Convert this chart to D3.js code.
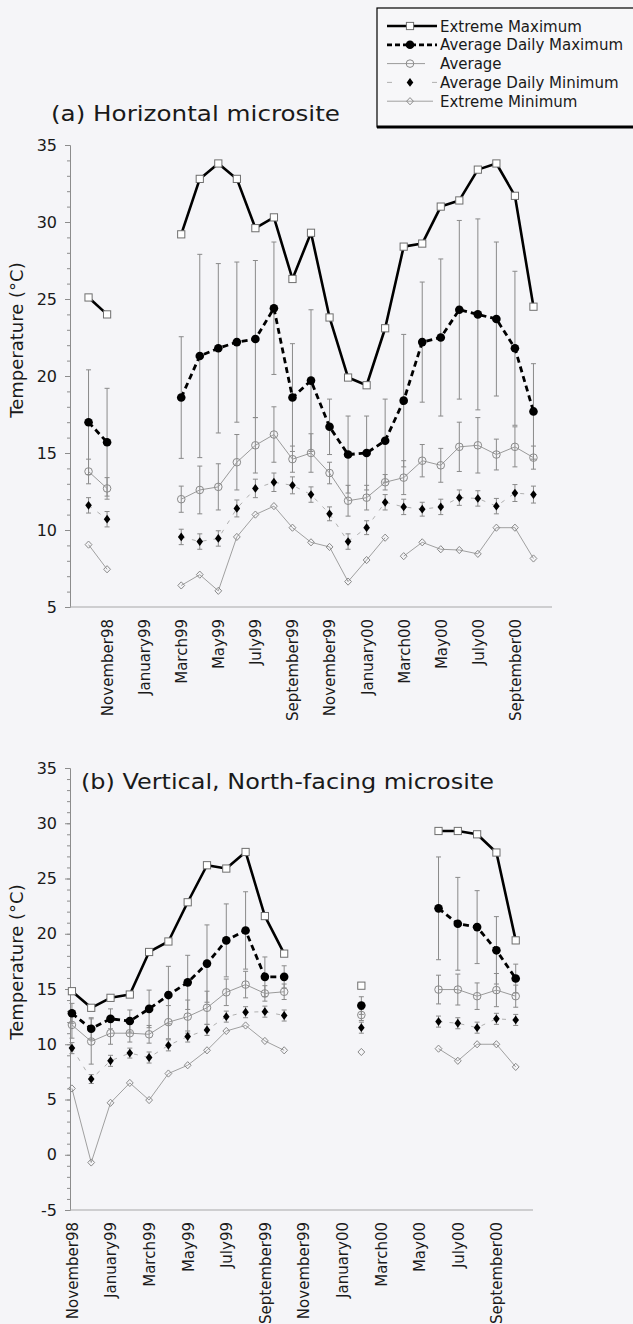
<!DOCTYPE html>
<html>
<head>
<meta charset="utf-8">
<script src="https://cdn.jsdelivr.net/npm/d3@7"></script>
<style>
  html, body { margin: 0; padding: 0; background: #f5f5f8; }
  svg { display: block; }
  text { font-family: "DejaVu Sans", "Liberation Sans", sans-serif; fill: #1a1a1a; }
</style>
</head>
<body>
<svg id="chart" width="633" height="1324"></svg>
<script>
// Monthly sequence shared by both panels (Sep 1998 .. Nov 2000)
const months = ["Sep98","Oct98","Nov98","Dec98","Jan99","Feb99","Mar99","Apr99","May99",
  "Jun99","Jul99","Aug99","Sep99","Oct99","Nov99","Dec99","Jan00","Feb00","Mar00","Apr00",
  "May00","Jun00","Jul00","Aug00","Sep00","Oct00","Nov00"];

// Axis tick months and their printed labels
const tickMonths = ["Nov98","Jan99","Mar99","May99","Jul99","Sep99","Nov99","Jan00","Mar00","May00","Jul00","Sep00"];
const tickLabels = ["November98","January99","March99","May99","July99","September99",
  "November99","January00","March00","May00","July00","September00"];
const yTicksA = [5, 10, 15, 20, 25, 30, 35];
const yTicksB = [-5, 0, 5, 10, 15, 20, 25, 30, 35];

// (a) Horizontal microsite, °C
const extMaxA   = [null,25.1,24.0,null,null,null,29.2,32.8,33.8,32.8,29.6,30.3,26.3,29.3,23.8,19.9,19.4,23.1,28.4,28.6,31.0,31.4,33.4,33.8,31.7,24.5,null];
const avgMaxA   = [null,17.0,15.7,null,null,null,18.6,21.3,21.8,22.2,22.4,24.4,18.6,19.7,16.7,14.9,15.0,15.8,18.4,22.2,22.5,24.3,24.0,23.7,21.8,17.7,null];
const avgMaxSdA = [null,3.4,3.5,null,null,null,3.95,6.6,5.5,5.2,5.1,4.3,3.5,4.6,1.8,2.5,2.4,2.7,4.3,3.9,5.1,5.8,6.2,5.0,5.0,3.1,null];
const avgA      = [null,13.8,12.7,null,null,null,12.0,12.6,12.8,14.4,15.5,16.2,14.6,15.0,13.7,11.9,12.1,13.1,13.4,14.5,14.2,15.4,15.5,14.9,15.4,14.7,null];
const avgSdA    = [null,0.8,0.7,null,null,null,0.85,1.55,1.5,1.8,1.8,1.8,0.85,1.25,0.7,1.0,0.8,0.5,1.1,1.05,1.1,1.6,1.8,1.0,1.3,0.75,null];
const avgMinA   = [null,11.6,10.7,null,null,null,9.55,9.25,9.45,11.4,12.7,13.1,12.9,12.3,11.05,9.25,10.15,11.8,11.5,11.35,11.5,12.1,12.05,11.55,12.4,12.3,null];
const avgMinSdA = [null,0.5,0.5,null,null,null,0.5,0.5,0.5,0.55,0.6,0.6,0.55,0.5,0.45,0.5,0.45,0.5,0.5,0.45,0.5,0.5,0.5,0.5,0.55,0.55,null];
const extMinA   = [null,9.05,7.45,null,null,null,6.4,7.1,6.05,9.55,11.0,11.55,10.15,9.2,8.9,6.65,8.05,9.5,8.3,9.2,8.75,8.7,8.45,10.15,10.15,8.15,null];
const extMinBreaksA = ["Feb00"]; // no record between Feb00 and Mar00

// (b) Vertical, North-facing microsite, °C
const extMaxB   = [null,null,14.8,13.3,14.2,14.5,18.35,19.3,22.85,26.2,25.9,27.4,21.6,18.2,null,null,null,15.3,null,null,null,29.3,29.3,29.0,27.35,19.4,null];
const avgMaxB   = [null,null,12.8,11.4,12.3,12.1,13.2,14.45,15.6,17.3,19.4,20.3,16.1,16.1,null,null,null,13.5,null,null,null,22.3,20.9,20.6,18.5,15.95,null];
const avgMaxSdB = [null,null,0.9,1.0,0.9,1.0,1.7,2.6,2.45,3.5,3.3,3.5,1.8,1.0,null,null,null,0.8,null,null,null,4.65,4.2,3.3,3.05,1.3,null];
const avgB      = [null,null,11.75,10.25,11.0,11.0,10.9,12.0,12.5,13.3,14.7,15.4,14.6,14.75,null,null,null,12.65,null,null,null,14.95,14.95,14.35,14.9,14.35,null];
const avgSdB    = [null,null,1.2,2.05,1.0,0.8,0.8,1.5,1.5,1.5,1.2,1.2,0.7,0.7,null,null,null,0.5,null,null,null,1.3,1.4,1.2,1.5,1.0,null];
const avgMinB   = [null,null,9.65,6.85,8.5,9.2,8.8,9.9,10.7,11.3,12.5,12.9,12.95,12.6,null,null,null,11.5,null,null,null,12.05,11.9,11.5,12.3,12.2,null];
const avgMinSdB = [null,null,0.5,0.4,0.5,0.45,0.5,0.5,0.5,0.5,0.5,0.5,0.5,0.5,null,null,null,0.5,null,null,null,0.5,0.5,0.5,0.5,0.5,null];
const extMinB   = [null,null,6.0,-0.7,4.7,6.5,4.95,7.35,8.1,9.45,11.2,11.7,10.3,9.45,null,null,null,9.3,null,null,null,9.6,8.5,10.0,10.0,7.95,null];

const legendLabels = ["Extreme Maximum","Average Daily Maximum","Average","Average Daily Minimum","Extreme Minimum"];

// ---- drawing styles per series kind ----
const styles = {
  extMax: { stroke: "#000", width: 2.6, dash: null,  marker: "square" },
  avgMax: { stroke: "#000", width: 2.8, dash: "6,4", marker: "dot" },
  avg:    { stroke: "#9a9a9a", width: 1, dash: null, marker: "ring" },
  avgMin: { stroke: "#b0b0b0", width: 1, dash: "4,7", marker: "fdiamond" },
  extMin: { stroke: "#a0a0a0", width: 1, dash: null, marker: "odiamond" }
};

const svg = d3.select("#chart");

function diamondPath(hw, hh) {
  return `M0,${-hh}L${hw},0L0,${hh}L${-hw},0Z`;
}

function drawMarker(g, kind, x, y) {
  if (kind === "square") {
    g.append("rect").attr("x", x - 3.6).attr("y", y - 3.6).attr("width", 7.2).attr("height", 7.2)
      .attr("fill", "#fff").attr("stroke", "#6e6e6e").attr("stroke-width", 1);
  } else if (kind === "dot") {
    g.append("circle").attr("cx", x).attr("cy", y).attr("r", 4.3).attr("fill", "#000");
  } else if (kind === "ring") {
    g.append("circle").attr("cx", x).attr("cy", y).attr("r", 3.8)
      .attr("fill", "none").attr("stroke", "#8a8a8a").attr("stroke-width", 1);
  } else if (kind === "fdiamond") {
    g.append("path").attr("d", diamondPath(3.3, 4.4)).attr("transform", `translate(${x},${y})`)
      .attr("fill", "#000");
  } else if (kind === "odiamond") {
    g.append("path").attr("d", diamondPath(3.4, 3.6)).attr("transform", `translate(${x},${y})`)
      .attr("fill", "none").attr("stroke", "#8a8a8a").attr("stroke-width", 1);
  }
}

// Split a monthly series into contiguous runs (stops at gaps and explicit breaks)
function segments(values, breaks) {
  const out = [];
  let cur = [];
  values.forEach((v, i) => {
    if (v == null) { if (cur.length) out.push(cur); cur = []; return; }
    cur.push({ i, v });
    if (breaks && breaks.includes(months[i])) { out.push(cur); cur = []; }
  });
  if (cur.length) out.push(cur);
  return out;
}

function drawPanel(cfg) {
  const x = d3.scaleLinear().domain(cfg.xDomain).range(cfg.xRange);
  const y = d3.scaleLinear().domain(cfg.yDomain).range(cfg.yRange);
  const g = svg.append("g");

  // y axis: minor ticks every degree, labelled majors
  const minor = d3.range(cfg.yDomain[0], cfg.yDomain[1] + 0.01, 1);
  const gMinor = g.append("g").attr("transform", `translate(${cfg.xRange[0]},0)`)
    .call(d3.axisLeft(y).tickValues(minor).tickSize(3).tickFormat(""));
  gMinor.select(".domain").attr("stroke", "#8c8c8c");
  gMinor.selectAll(".tick line").attr("stroke", "#8c8c8c");
  const gMajor = g.append("g").attr("transform", `translate(${cfg.xRange[0]},0)`)
    .call(d3.axisLeft(y).tickValues(cfg.yTicks).tickSize(5).tickPadding(8).tickFormat(d => String(d)));
  gMajor.select(".domain").remove();
  gMajor.selectAll(".tick line").attr("stroke", "#8c8c8c");
  gMajor.selectAll(".tick text").attr("font-size", 16).attr("fill", "#2a2a2a")
    .attr("font-family", "DejaVu Sans, sans-serif");

  // x axis with rotated month labels
  const tickIdx = tickMonths.map(m => months.indexOf(m));
  const gx = g.append("g").attr("transform", `translate(0,${cfg.yRange[0]})`)
    .call(d3.axisBottom(x).tickValues(tickIdx).tickSize(0)
      .tickFormat((d, k) => tickLabels[k]));
  gx.select(".domain").attr("stroke", "#a8a8a8").attr("stroke-width", 1.2)
    .attr("d", `M${cfg.xRange[0]},0H${cfg.xAxisEnd}`);
  gx.selectAll(".tick text")
    .attr("transform", "rotate(-90)")
    .attr("text-anchor", "end")
    .attr("x", -12).attr("y", 0).attr("dy", "0.36em")
    .attr("font-size", 15).attr("fill", "#1a1a1a")
    .attr("font-family", "DejaVu Sans, sans-serif");

  // axis title
  g.append("text")
    .attr("transform", `translate(${cfg.yTitleX},${cfg.yTitleY}) rotate(-90)`)
    .attr("text-anchor", "middle").attr("font-size", 18)
    .text("Temperature (°C)");

  // panel title
  g.append("text").attr("x", cfg.titleX).attr("y", cfg.titleY)
    .attr("font-size", 22).attr("textLength", cfg.titleLen).attr("lengthAdjust", "spacingAndGlyphs")
    .text(cfg.title);

  // error bars (± one standard deviation)
  const eb = g.append("g").attr("stroke", "#8a8a8a").attr("stroke-width", 1).attr("fill", "none");
  cfg.series.filter(s => s.sd).forEach(s => {
    s.values.forEach((v, i) => {
      const sd = s.sd[i];
      if (v == null || sd == null) return;
      const cx = x(i), y0 = y(v - sd), y1 = y(v + sd);
      eb.append("line").attr("x1", cx).attr("x2", cx).attr("y1", y0).attr("y2", y1);
      eb.append("line").attr("x1", cx - 2.5).attr("x2", cx + 2.5).attr("y1", y0).attr("y2", y0);
      eb.append("line").attr("x1", cx - 2.5).attr("x2", cx + 2.5).attr("y1", y1).attr("y2", y1);
    });
  });

  // connecting lines
  const line = d3.line().x(d => x(d.i)).y(d => y(d.v));
  const order = ["extMin", "avgMin", "avg", "avgMax", "extMax"];
  order.forEach(kind => {
    const s = cfg.series.find(t => t.kind === kind);
    const st = styles[kind];
    segments(s.values, s.breaks).forEach(seg => {
      if (seg.length < 2) return;
      g.append("path").attr("d", line(seg)).attr("fill", "none")
        .attr("stroke", st.stroke).attr("stroke-width", st.width)
        .attr("stroke-dasharray", st.dash).attr("stroke-linejoin", "round");
    });
  });

  // markers
  order.forEach(kind => {
    const s = cfg.series.find(t => t.kind === kind);
    const gm = g.append("g");
    s.values.forEach((v, i) => { if (v != null) drawMarker(gm, styles[kind].marker, x(i), y(v)); });
  });
}

drawPanel({
  xDomain: [0, 26], xRange: [70, 552], xAxisEnd: 552,
  yDomain: [5, 35], yRange: [607, 145], yTicks: yTicksA,
  yTitleX: 23, yTitleY: 340,
  title: "(a) Horizontal microsite", titleX: 51, titleY: 121, titleLen: 289,
  series: [
    { kind: "extMax", values: extMaxA },
    { kind: "avgMax", values: avgMaxA, sd: avgMaxSdA },
    { kind: "avg",    values: avgA,    sd: avgSdA },
    { kind: "avgMin", values: avgMinA, sd: avgMinSdA },
    { kind: "extMin", values: extMinA, breaks: extMinBreaksA }
  ]
});

drawPanel({
  xDomain: [1.9, 26], xRange: [70, 535], xAxisEnd: 533,
  yDomain: [-5, 35], yRange: [1210, 768], yTicks: yTicksB,
  yTitleX: 23, yTitleY: 962,
  title: "(b) Vertical, North-facing microsite", titleX: 81, titleY: 789, titleLen: 413,
  series: [
    { kind: "extMax", values: extMaxB },
    { kind: "avgMax", values: avgMaxB, sd: avgMaxSdB },
    { kind: "avg",    values: avgB,    sd: avgSdB },
    { kind: "avgMin", values: avgMinB, sd: avgMinSdB },
    { kind: "extMin", values: extMinB }
  ]
});

// legend
const lg = svg.append("g");
lg.append("rect").attr("x", 377).attr("y", 8).attr("width", 262).attr("height", 119)
  .attr("fill", "#f7f7f9").attr("stroke", "#000").attr("stroke-width", 1.2);
lg.append("line").attr("x1", 377).attr("x2", 633).attr("y1", 127).attr("y2", 127)
  .attr("stroke", "#000").attr("stroke-width", 3);
const legendKinds = ["extMax", "avgMax", "avg", "avgMin", "extMin"];
const legendEnds = [437, 437, 425, 437, 433];
legendKinds.forEach((kind, k) => {
  const ly = 26 + k * 18.8;
  const st = styles[kind];
  lg.append("line").attr("x1", 387).attr("x2", legendEnds[k]).attr("y1", ly).attr("y2", ly)
    .attr("stroke", st.stroke).attr("stroke-width", st.width)
    .attr("stroke-dasharray", kind === "avgMax" ? "5,3" : (kind === "avgMin" ? "5,40" : st.dash));
  drawMarker(lg, st.marker, 410, ly);
  lg.append("text").attr("x", 440).attr("y", ly + 5.5).attr("font-size", 15)
    .text(legendLabels[k]);
});
</script>
</body>
</html>
